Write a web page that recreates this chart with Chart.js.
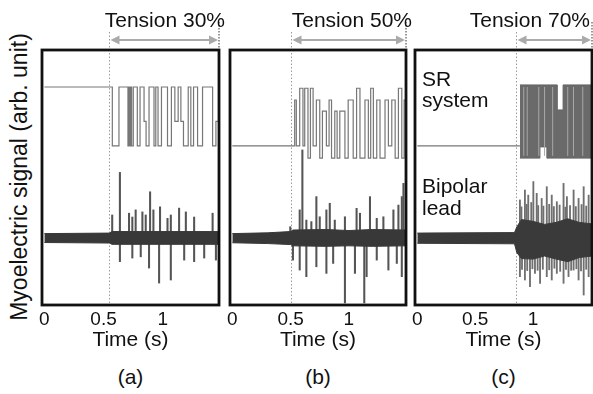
<!DOCTYPE html>
<html>
<head>
<meta charset="utf-8">
<script src="https://cdn.jsdelivr.net/npm/chart.js@4.4.1/dist/chart.umd.min.js"></script>
<style>
  body { margin: 0; background: #fff; }
  #wrap { position: relative; width: 593px; height: 394px; overflow: hidden;
          font-family: "Liberation Sans", Arial, sans-serif; color: #111; }
  canvas { position: absolute; }
  .lbl { position: absolute; white-space: nowrap; font-size: 21px; line-height: 24px; }
</style>
</head>
<body>
<div id="wrap">
  <canvas id="chartA" width="193" height="343" style="left:32px;top:14px"></canvas>
  <canvas id="chartB" width="192" height="343" style="left:220px;top:14px"></canvas>
  <canvas id="chartC" width="188" height="343" style="left:405px;top:14px"></canvas>

  <div class="lbl" id="tensA" style="right:368px;top:8px;text-align:right"></div>
  <div class="lbl" id="tensB" style="right:181px;top:8px;text-align:right"></div>
  <div class="lbl" id="tensC" style="right:3px;top:8px;text-align:right"></div>

  <div class="lbl" style="left:422px;top:68px;line-height:21px">SR<br>system</div>
  <div class="lbl" style="left:422px;top:175px;line-height:22px">Bipolar<br>lead</div>

  <div class="lbl" style="left:42px;width:177px;top:365px;text-align:center">(a)</div>
  <div class="lbl" style="left:230px;width:176px;top:365px;text-align:center">(b)</div>
  <div class="lbl" style="left:415px;width:177px;top:365px;text-align:center">(c)</div>

  <div class="lbl" style="left:19px;top:177px;font-size:23px;transform:translate(-50%,-50%) rotate(-90deg)">Myoelectric signal (arb. unit)</div>
</div>

<script>
// ---------- data ----------
const timeTicks = [0, 0.5, 1];
const tensionLabels = ['Tension 30%', 'Tension 50%', 'Tension 70%'];
const onsets = [0.55, 0.5, 0.85];

// SR system output (step signal): switching times (s) and level held from each time
const srTimesA = [0, 0.574, 0.630, 0.706, 0.715, 0.723, 0.730, 0.737, 0.751, 0.785,
  0.808, 0.842, 0.859, 0.884, 0.926, 0.941, 0.960, 0.989, 1.040, 1.073,
  1.102, 1.130, 1.153, 1.175, 1.215, 1.237, 1.260, 1.294, 1.336, 1.421, 1.449, 1.48];
const srLevelsA = [85.5, 62.4, 85.5, 62.4, 85.5, 62.4, 85.5, 62.4, 85.5, 62.4,
  85.5, 72, 62.4, 85.5, 62.4, 85.5, 62.4, 85.5, 62.4, 85.5,
  72, 85.5, 72, 62.4, 85.5, 62.4, 85.5, 62.4, 85.5, 62.4, 72, 72];

const srTimesB = [0, 0.506, 0.535, 0.549, 0.578, 0.606, 0.621, 0.649, 0.670, 0.693, 0.721,
  0.750, 0.773, 0.807, 0.830, 0.851, 0.879, 0.899, 0.922, 0.966, 0.994,
  1.037, 1.066, 1.095, 1.138, 1.167, 1.187, 1.210, 1.239, 1.267, 1.310,
  1.339, 1.368, 1.397, 1.425, 1.454, 1.474, 1.49];
const srLevelsB = [62.4, 62.4, 80.4, 62.4, 85, 62.4, 85, 57.6, 85, 62.4, 80.4,
  57.6, 76, 62.4, 80.4, 57.6, 76, 57.6, 76, 57.6, 80.4,
  57.6, 85, 57.6, 80.4, 57.6, 85, 57.6, 80.4, 57.6, 80.4,
  62.4, 80.4, 57.6, 85, 57.6, 80.4, 80.4];

const srTimesC = [0, 0.887];
const srLevelsC = [62.4, 62.4];
// dense switching in (c): envelope of the block and lighter gaps inside it
const srBlockTimesC = [0.887, 1.06, 1.12, 1.21, 1.26, 1.51];
const srBlockTopC = [86.3, 86.3, 86.3, 76.5, 86.3, 86.3];
const srBlockBottomC = [57.6, 62, 57.6, 57.6, 57.6, 57.6];
const srGapTimesC = [0.92, 0.95, 1.05, 1.10, 1.17, 1.30, 1.35, 1.43];

// bipolar lead: background noise envelope
const bandTimesA = [0, 0.55, 0.57, 1.48];
const bandHighA = [28.0, 28.2, 28.8, 28.8];
const bandLowA = [24.5, 24.3, 23.8, 23.8];
const bandTimesB = [0, 0.3, 0.5, 0.52, 0.8, 1.0, 1.2, 1.49];
const bandHighB = [28.0, 28.3, 28.8, 29.4, 29.6, 29.2, 29.6, 29.4];
const bandLowB = [24.4, 24.1, 23.7, 23.2, 23.0, 23.2, 23.0, 23.2];
const bandTimesC = [0, 0.84, 0.86, 0.9, 1.0, 1.1, 1.2, 1.3, 1.4, 1.51];
const bandHighC = [28.2, 28.4, 30.6, 33.5, 32.8, 31.6, 32.4, 33.8, 32.4, 31.8];
const bandLowC = [24.2, 24.0, 20.6, 18.2, 18.0, 19.2, 18.0, 17.0, 18.6, 19.2];
const bandMid = [26.3, 26.2, 26.2];

// bipolar lead: spikes (time, peak value)
const spikeTimesA = [0.573, 0.638, 0.715, 0.743, 0.771, 0.828, 0.856, 0.893, 0.921, 0.977,
  1.040, 1.068, 1.138, 1.195, 1.265, 1.421,
  0.638, 0.743, 0.814, 0.884, 0.969, 1.068, 1.181, 1.265, 1.350, 1.449];
const spikePeaksA = [35.3, 52, 36, 34.5, 37.3, 36.5, 35.3, 44.4, 37.3, 38.5,
  34, 35.3, 38, 36.5, 34.5, 36,
  17, 18.4, 18.9, 14.5, 8.6, 9.8, 17.6, 17, 18.4, 17.6];

const spikeTimesB = [0.497, 0.578, 0.601, 0.635, 0.678, 0.721, 0.750, 0.807, 0.836, 0.879,
  0.966, 1.066, 1.095, 1.181, 1.239, 1.296, 1.382, 1.425, 1.454, 1.468,
  0.520, 0.578, 0.635, 0.721, 0.807, 0.865, 0.966, 1.052, 1.132, 1.152,
  1.239, 1.339, 1.411, 1.454];
const spikePeaksB = [30.7, 37.3, 60.8, 33.3, 32.7, 42.5, 34.6, 37.3, 39.9, 33.3,
  34.6, 37.9, 36, 42.5, 34, 34.6, 37.3, 39.2, 42.5, 47.7,
  17.6, 13.7, 11.1, 15, 12.4, 16.3, 0.8, 12.4, 0.8, 11.1,
  17.6, 13.7, 16.3, 11.1];

const spikeTimesC = [0.887, 0.900, 0.930, 0.945, 0.959, 0.985, 1.003, 1.032, 1.045, 1.075,
  1.090, 1.119, 1.140, 1.162, 1.180, 1.206, 1.230, 1.264, 1.280, 1.293,
  1.320, 1.351, 1.370, 1.394, 1.420, 1.438, 1.460, 1.481,
  0.887, 0.905, 0.930, 0.950, 0.974, 0.995, 1.017, 1.040, 1.061, 1.085,
  1.119, 1.140, 1.162, 1.185, 1.206, 1.235, 1.264, 1.285, 1.307, 1.330,
  1.351, 1.375, 1.394, 1.415, 1.438, 1.460, 1.481];
const spikePeaksC = [41.2, 38.5, 45.1, 39.5, 43.1, 40.2, 48.4, 43.8, 39.0, 41.8,
  38.8, 46.4, 39.5, 43.1, 38.6, 40.5, 39.2, 47.7, 38.4, 42.5,
  39.0, 45.1, 38.6, 41.8, 39.4, 46.4, 38.8, 43.1,
  11.1, 14.0, 9.8, 13.5, 7.2, 14.2, 12.4, 13.6, 8.5, 14.0,
  11.1, 13.8, 9.8, 14.4, 12.4, 13.2, 8.5, 14.0, 11.1, 13.6,
  13.7, 14.2, 9.8, 13.4, 3.9, 14.0, 11.1];

// ---------- helpers ----------
const FONT = '"Liberation Sans", Arial, sans-serif';
const zip = (xs, ys) => xs.map((x, i) => ({ x, y: ys[i] }));

// box, onset marker, arrow above the panel
const panelDecor = {
  id: 'panelDecor',
  beforeDatasetsDraw(chart, args, opts) {
    const { ctx, chartArea: a, scales: { x } } = chart;
    const xo = Math.round(x.getPixelForValue(opts.onset)) + 0.5;
    ctx.save();
    ctx.strokeStyle = '#9a9a9a';
    ctx.lineWidth = 1;
    ctx.setLineDash([1.5, 2]);
    ctx.beginPath();
    ctx.moveTo(xo, a.top - 18);
    ctx.lineTo(xo, a.bottom);
    ctx.stroke();
    ctx.restore();
  },
  afterDraw(chart, args, opts) {
    const { ctx, chartArea: a, scales: { x } } = chart;
    const xo = Math.round(x.getPixelForValue(opts.onset)) + 0.5;
    ctx.save();
    // dotted right edge above the box
    ctx.strokeStyle = '#333';
    ctx.lineWidth = 1;
    ctx.setLineDash([1.5, 1.5]);
    ctx.beginPath();
    ctx.moveTo(a.right, a.top - 28);
    ctx.lineTo(a.right, a.top);
    ctx.stroke();
    ctx.setLineDash([]);

    // double arrow
    const ay = a.top - 10, hl = 9, hw = 4.5;
    ctx.strokeStyle = ctx.fillStyle = '#aaa';
    ctx.lineWidth = 2;
    ctx.beginPath();
    ctx.moveTo(xo + hl, ay);
    ctx.lineTo(a.right - hl, ay);
    ctx.stroke();
    ctx.beginPath();
    ctx.moveTo(xo + 1, ay); ctx.lineTo(xo + 1 + hl, ay - hw); ctx.lineTo(xo + 1 + hl, ay + hw);
    ctx.closePath(); ctx.fill();
    ctx.beginPath();
    ctx.moveTo(a.right - 1, ay); ctx.lineTo(a.right - 1 - hl, ay - hw); ctx.lineTo(a.right - 1 - hl, ay + hw);
    ctx.closePath(); ctx.fill();

    // frame
    ctx.strokeStyle = '#111';
    ctx.lineWidth = 2.8;
    ctx.strokeRect(a.left, a.top, a.right - a.left, a.bottom - a.top);
    ctx.restore();
  }
};

function makePanel(id, p) {
  const datasets = [
    { type: 'line', data: zip(p.bandT, p.bandHi), borderColor: p.bandColor, borderWidth: 1, order: 2 },
    { type: 'line', data: zip(p.bandT, p.bandLo), borderColor: p.bandColor, borderWidth: 1,
      fill: '-1', backgroundColor: p.bandColor, order: 2 },
    { type: 'bar', data: p.spikeT.map((t, i) => ({ x: t, y: [p.mid, p.spikeV[i]] })),
      backgroundColor: p.spikeColor, barThickness: p.spikeWidth, borderWidth: 0, order: 3 },
    { type: 'line', data: zip(p.srT, p.srV), stepped: 'before', borderColor: '#777',
      borderWidth: 1.2, order: 0 }
  ];
  if (p.blockT) {
    datasets.push(
      { type: 'line', data: zip(p.blockT, p.blockTop), stepped: 'before', borderColor: '#666', borderWidth: 1, order: 1 },
      { type: 'line', data: zip(p.blockT, p.blockBottom), stepped: 'before', borderColor: '#666', borderWidth: 1,
        fill: '-1', backgroundColor: '#6a6a6a', order: 1 },
      { type: 'line', data: p.gapT.flatMap(t => [{ x: t, y: 58.5 }, { x: t, y: 85.5 }, { x: t, y: null }]),
        borderColor: '#a8a8a8', borderWidth: 1, spanGaps: false, order: 0 }
    );
  }

  return new Chart(document.getElementById(id), {
    type: 'line',
    data: { datasets },
    options: {
      responsive: false,
      animation: false,
      devicePixelRatio: 1,
      layout: { padding: { left: 10, right: p.padRight, top: 36, bottom: 0 } },
      elements: { point: { radius: 0 }, line: { tension: 0 } },
      plugins: {
        legend: { display: false },
        tooltip: { enabled: false },
        panelDecor: { onset: p.onset }
      },
      scales: {
        x: {
          type: 'linear',
          min: -0.02,
          max: p.xMax,
          offset: false,
          grid: { display: false, drawTicks: false },
          border: { display: false },
          afterBuildTicks: s => { s.ticks = timeTicks.map(v => ({ value: v })); },
          afterFit: s => { s.height = 52; },
          ticks: {
            padding: 3, color: '#111', autoSkip: false, maxRotation: 0,
            font: { family: FONT, size: 19 },
            callback: v => String(v)
          },
          title: {
            display: true, text: 'Time (s)', color: '#111',
            font: { family: FONT, size: 21 }, padding: { top: 2, bottom: 4 }
          }
        },
        y: { display: false, min: 0, max: 100 }
      }
    },
    plugins: [panelDecor]
  });
}

document.getElementById('tensA').textContent = tensionLabels[0];
document.getElementById('tensB').textContent = tensionLabels[1];
document.getElementById('tensC').textContent = tensionLabels[2];

makePanel('chartA', {
  onset: onsets[0], xMax: 1.475, padRight: 6,
  srT: srTimesA, srV: srLevelsA,
  bandT: bandTimesA, bandHi: bandHighA, bandLo: bandLowA, bandColor: '#383838',
  mid: bandMid[0], spikeT: spikeTimesA, spikeV: spikePeaksA, spikeColor: '#555', spikeWidth: 1.4
});
makePanel('chartB', {
  onset: onsets[1], xMax: 1.49, padRight: 6,
  srT: srTimesB, srV: srLevelsB,
  bandT: bandTimesB, bandHi: bandHighB, bandLo: bandLowB, bandColor: '#383838',
  mid: bandMid[1], spikeT: spikeTimesB, spikeV: spikePeaksB, spikeColor: '#555', spikeWidth: 1.4
});
makePanel('chartC', {
  onset: onsets[2], xMax: 1.51, padRight: 1,
  srT: srTimesC, srV: srLevelsC,
  blockT: srBlockTimesC, blockTop: srBlockTopC, blockBottom: srBlockBottomC, gapT: srGapTimesC,
  bandT: bandTimesC, bandHi: bandHighC, bandLo: bandLowC, bandColor: '#3a3a3a',
  mid: bandMid[2], spikeT: spikeTimesC, spikeV: spikePeaksC, spikeColor: '#707070', spikeWidth: 1.2
});
</script>
</body>
</html>
